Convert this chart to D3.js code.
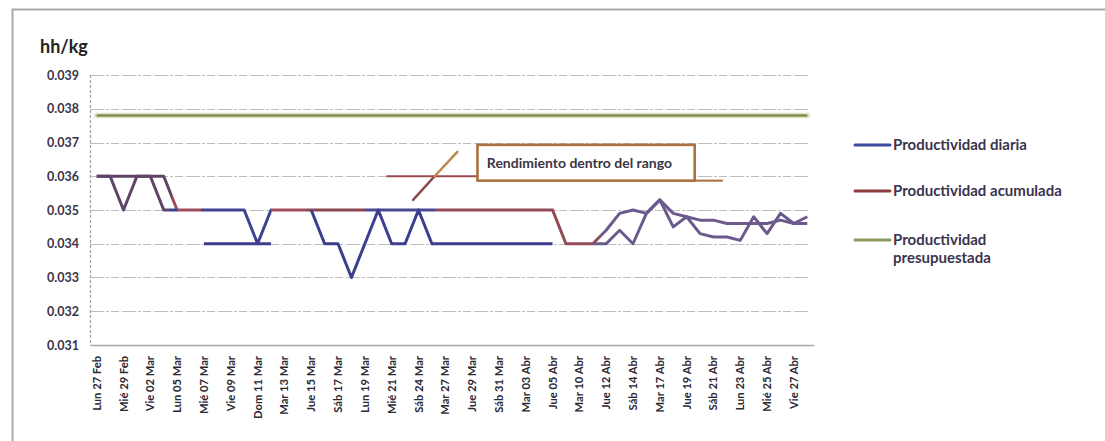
<!DOCTYPE html>
<html>
<head>
<meta charset="utf-8">
<script src="https://cdn.jsdelivr.net/npm/d3@7/dist/d3.min.js"></script>
<style>
  html, body { margin: 0; padding: 0; background: #fff; }
  svg { display: block; }
  text { font-family: Lato, "Open Sans", sans-serif; }
</style>
</head>
<body>
<svg id="chart" width="1105" height="441"></svg>
<script>
// Working days, Feb 27 – Apr 28
const categories = [
  "Lun 27 Feb", "Mar 28 Feb", "Mié 29 Feb", "Jue 01 Mar", "Vie 02 Mar", "Sáb 03 Mar",
  "Lun 05 Mar", "Mar 06 Mar", "Mié 07 Mar", "Jue 08 Mar", "Vie 09 Mar", "Sáb 10 Mar",
  "Dom 11 Mar", "Lun 12 Mar", "Mar 13 Mar", "Mié 14 Mar", "Jue 15 Mar", "Vie 16 Mar",
  "Sáb 17 Mar", "Dom 18 Mar", "Lun 19 Mar", "Mar 20 Mar", "Mié 21 Mar", "Vie 23 Mar",
  "Sáb 24 Mar", "Lun 26 Mar", "Mar 27 Mar", "Mié 28 Mar", "Jue 29 Mar", "Vie 30 Mar",
  "Sáb 31 Mar", "Lun 02 Abr", "Mar 03 Abr", "Mié 04 Abr", "Jue 05 Abr", "Lun 09 Abr",
  "Mar 10 Abr", "Mié 11 Abr", "Jue 12 Abr", "Vie 13 Abr", "Sáb 14 Abr", "Lun 16 Abr",
  "Mar 17 Abr", "Mié 18 Abr", "Jue 19 Abr", "Vie 20 Abr", "Sáb 21 Abr", "Dom 22 Abr",
  "Lun 23 Abr", "Mar 24 Abr", "Mié 25 Abr", "Jue 26 Abr", "Vie 27 Abr", "Sáb 28 Abr"
];

// hh/kg per day (null = no record)
const diaria = [
  0.036, 0.036, 0.035, 0.036, 0.036, 0.035,
  0.035, null, 0.034, 0.034, 0.034, 0.034,
  0.034, 0.034, null, null, 0.035, 0.034,
  0.034, 0.033, 0.034, 0.035, 0.034, 0.034,
  0.035, 0.034, 0.034, 0.034, 0.034, 0.034,
  0.034, 0.034, 0.034, 0.034, 0.034, null,
  null, 0.034, 0.034, 0.0344, 0.034, 0.0349,
  0.0353, 0.0345, 0.0348, 0.0343, 0.0342, 0.0342,
  0.0341, 0.0348, 0.0343, 0.0349, 0.0346, 0.0348
];

// cumulative hh/kg
const acumulada = [
  0.036, 0.036, 0.036, 0.036, 0.036, 0.036,
  0.035, 0.035, 0.035, 0.035, 0.035, 0.035,
  0.034, 0.035, 0.035, 0.035, 0.035, 0.035,
  0.035, 0.035, 0.035, 0.035, 0.035, 0.035,
  0.035, 0.035, 0.035, 0.035, 0.035, 0.035,
  0.035, 0.035, 0.035, 0.035, 0.035, 0.034,
  0.034, 0.034, 0.0344, 0.0349, 0.035, 0.0349,
  0.0353, 0.0349, 0.0348, 0.0347, 0.0347, 0.0346,
  0.0346, 0.0346, 0.0346, 0.0347, 0.0346, 0.0346
];

// budgeted hh/kg
const presupuestada = [
  0.0378, 0.0378, 0.0378, 0.0378, 0.0378, 0.0378, 0.0378, 0.0378, 0.0378,
  0.0378, 0.0378, 0.0378, 0.0378, 0.0378, 0.0378, 0.0378, 0.0378, 0.0378,
  0.0378, 0.0378, 0.0378, 0.0378, 0.0378, 0.0378, 0.0378, 0.0378, 0.0378,
  0.0378, 0.0378, 0.0378, 0.0378, 0.0378, 0.0378, 0.0378, 0.0378, 0.0378,
  0.0378, 0.0378, 0.0378, 0.0378, 0.0378, 0.0378, 0.0378, 0.0378, 0.0378,
  0.0378, 0.0378, 0.0378, 0.0378, 0.0378, 0.0378, 0.0378, 0.0378, 0.0378
];

const yTicks = [0.031, 0.032, 0.033, 0.034, 0.035, 0.036, 0.037, 0.038, 0.039];
const xTickLabels = categories.filter((d, i) => i % 2 === 0);

const seriesNames = ["Productividad diaria", "Productividad acumulada", "Productividad presupuestada"];

const svg = d3.select("#chart");

// outer frame
svg.append("path")
  .attr("d", "M12.5,441 V9.5 H1105")
  .attr("fill", "none").attr("stroke", "#a9a9a9").attr("stroke-width", 2);

const plot = { left: 90, right: 814, top: 75, bottom: 345 };

const x = d3.scaleBand().domain(categories).range([plot.left, plot.right]).padding(0);
const xi = d3.scaleLinear().domain([-0.5, categories.length - 0.5]).range([plot.left, plot.right]);
const y = d3.scaleLinear().domain([0.031, 0.039]).range([plot.bottom, plot.top]);
const cx = c => x(c) + x.bandwidth() / 2;

// horizontal gridlines
svg.append("g").selectAll("line").data(yTicks).join("line")
  .attr("x1", plot.left).attr("x2", plot.right - 4)
  .attr("y1", d => Math.round(y(d)) + 0.5).attr("y2", d => Math.round(y(d)) + 0.5)
  .attr("stroke", "#bdbdbd").attr("stroke-width", 1.2)
  .attr("stroke-dasharray", "14,2,3,2,8,3");

// left axis line
svg.append("line")
  .attr("x1", plot.left + 0.5).attr("x2", plot.left + 0.5)
  .attr("y1", plot.top).attr("y2", plot.bottom)
  .attr("stroke", "#a0a0a0").attr("stroke-width", 1.2).attr("stroke-dasharray", "3,2");

// Y axis
const yAxis = svg.append("g")
  .attr("transform", `translate(${plot.left},0)`)
  .call(d3.axisLeft(y).tickValues(yTicks).tickFormat(d3.format(".3f")).tickSize(0).tickPadding(11));
yAxis.select(".domain").remove();
yAxis.selectAll("text")
  .attr("font-family", "Lato, sans-serif").attr("font-weight", "bold")
  .attr("font-size", 12.5).attr("fill", "#3b3447");

// X axis
const xAxis = svg.append("g")
  .attr("transform", `translate(0,${plot.bottom})`)
  .call(d3.axisBottom(x).tickValues(xTickLabels).tickSize(0).tickPadding(0));
xAxis.select(".domain")
  .attr("stroke", "#a8a8a8").attr("stroke-width", 1.5);
xAxis.selectAll("text")
  .attr("font-family", "Lato, sans-serif").attr("font-weight", "bold")
  .attr("font-size", 11.2).attr("fill", "#2b2733")
  .attr("text-anchor", "end")
  .attr("transform", "rotate(-90)")
  .attr("x", -11).attr("y", 0).attr("dy", "0.36em");

// "hh/kg" unit label
svg.append("text")
  .attr("x", 40).attr("y", 53)
  .attr("font-family", "'Liberation Sans', Arial, sans-serif")
  .attr("font-weight", "bold").attr("font-size", 18).attr("fill", "#222")
  .text("hh/kg");

// stroke gradients along x (colour stops by category index)
const defs = svg.append("defs");
function stepGradient(id, stops) {
  const g = defs.append("linearGradient").attr("id", id)
    .attr("gradientUnits", "userSpaceOnUse")
    .attr("x1", plot.left).attr("x2", plot.right).attr("y1", 0).attr("y2", 0);
  const w = plot.right - plot.left;
  stops.forEach((s, k) => {
    const off = (xi(s[0]) - plot.left) / w;
    if (k > 0) g.append("stop").attr("offset", off).attr("stop-color", stops[k - 1][1]);
    g.append("stop").attr("offset", off).attr("stop-color", s[1]);
  });
  g.append("stop").attr("offset", 1).attr("stop-color", stops[stops.length - 1][1]);
}
stepGradient("gDiaria", [[-0.5, "#5e4468"], [5.5, "#3d3f8e"], [36.5, "#6c5a8c"]]);
stepGradient("gAcumulada", [
  [-0.5, "#5e4468"], [5.6, "#9c4d58"], [7.8, "#3f428f"], [13, "#a04f5a"],
  [15.6, "#8a4850"], [20, "#4a4a94"], [25.2, "#934a56"], [37.5, "#6c5a8c"]
]);

const line = d3.line()
  .defined(d => d.v !== null)
  .x(d => cx(d.c))
  .y(d => y(d.v));

const toPts = arr => arr.map((v, i) => ({ c: categories[i], v }));

// budget line
svg.append("path").datum(toPts(presupuestada))
  .attr("d", line).attr("fill", "none")
  .attr("stroke", "#dfe4c2").attr("stroke-width", 5.5).attr("stroke-linecap", "round");
svg.append("path").datum(toPts(presupuestada))
  .attr("d", line).attr("fill", "none")
  .attr("stroke", "#7f8f57").attr("stroke-width", 2.6);

// cumulative and daily lines
svg.append("path").datum(toPts(acumulada))
  .attr("d", line).attr("fill", "none")
  .attr("stroke", "url(#gAcumulada)").attr("stroke-width", 3)
  .attr("stroke-linejoin", "round");
svg.append("path").datum(toPts(diaria))
  .attr("d", line).attr("fill", "none")
  .attr("stroke", "url(#gDiaria)").attr("stroke-width", 3)
  .attr("stroke-linejoin", "round");

// annotation: range marker and callout
const ann = svg.append("g");
ann.append("line")
  .attr("x1", xi(21.6)).attr("x2", xi(28.4))
  .attr("y1", y(0.036)).attr("y2", y(0.036))
  .attr("stroke", "#9a4a50").attr("stroke-width", 2);
ann.append("line")
  .attr("x1", xi(23.6)).attr("y1", y(0.0353))
  .attr("x2", xi(25.2)).attr("y2", y(0.036))
  .attr("stroke", "#8b4848").attr("stroke-width", 2.5).attr("stroke-linecap", "round");
ann.append("line")
  .attr("x1", xi(25.2)).attr("y1", y(0.036))
  .attr("x2", xi(26.9)).attr("y2", y(0.03672))
  .attr("stroke", "#c0864e").attr("stroke-width", 2.5).attr("stroke-linecap", "round");
ann.append("line")
  .attr("x1", xi(44.6)).attr("x2", xi(46.7))
  .attr("y1", y(0.03587)).attr("y2", y(0.03587))
  .attr("stroke", "#a8713f").attr("stroke-width", 2);
ann.append("rect")
  .attr("x", xi(28.4)).attr("y", y(0.03693))
  .attr("width", xi(44.6) - xi(28.4)).attr("height", y(0.03587) - y(0.03693))
  .attr("fill", "#fff").attr("stroke", "#a8713f").attr("stroke-width", 2.6);
ann.append("text")
  .attr("x", xi(29.1)).attr("y", (y(0.03693) + y(0.03587)) / 2)
  .attr("dy", "0.35em")
  .attr("font-family", "Lato, sans-serif").attr("font-weight", "bold")
  .attr("font-size", 14).attr("fill", "#3a3444")
  .text("Rendimiento dentro del rango");

// legend
const legendColors = ["#3b4a9c", "#8e3b40", "#8a9a5c"];
const legend = svg.append("g").attr("transform", "translate(855,0)");
const legendY = [145, 191, 240];
seriesNames.forEach((name, k) => {
  legend.append("line")
    .attr("x1", 0).attr("x2", 35).attr("y1", legendY[k]).attr("y2", legendY[k])
    .attr("stroke", legendColors[k]).attr("stroke-width", 3).attr("stroke-linecap", "round");
  const t = legend.append("text")
    .attr("x", 38).attr("y", legendY[k]).attr("dy", "0.36em")
    .attr("font-family", "Lato, sans-serif").attr("font-weight", "bold")
    .attr("font-size", 15).attr("fill", "#3a3450");
  if (k === 2) {
    t.append("tspan").attr("x", 38).text("Productividad");
    t.append("tspan").attr("x", 38).attr("dy", "1.2em").text("presupuestada");
  } else {
    t.text(name);
  }
});
</script>
</body>
</html>
